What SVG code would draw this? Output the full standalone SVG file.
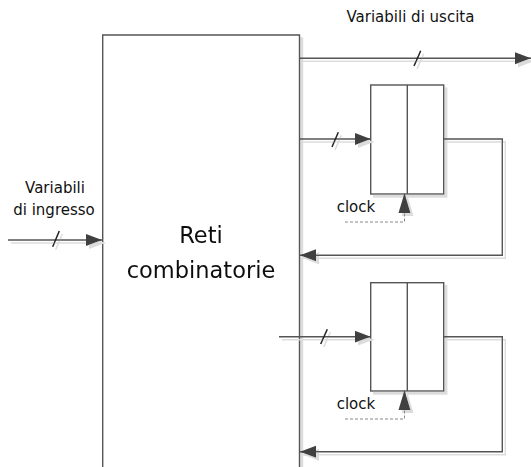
<svg xmlns="http://www.w3.org/2000/svg" width="531" height="467" viewBox="0 0 531 467">
<style>
.ln{fill:none;stroke:#555;stroke-width:1.4}
.bx{fill:#fff;stroke:#555;stroke-width:1.4}
.dash{fill:none;stroke:#888;stroke-width:1;stroke-dasharray:3 2}
.sl{stroke:#222;stroke-width:1.5}
.hd{fill:#404040}
.t{font-family:"DejaVu Sans","Noto Sans",sans-serif;fill:#111}
</style>
<defs>
<marker id="ah" markerUnits="userSpaceOnUse" markerWidth="17" markerHeight="13" refX="16" refY="6" orient="auto">
<path d="M0,0 L16,6 L0,12 z" fill="#404040"/>
</marker>
<filter id="sh" x="-5%" y="-5%" width="115%" height="115%">
<feOffset in="SourceAlpha" dx="3" dy="3" result="o"/>
<feFlood flood-color="#dcdcdc"/>
<feComposite in2="o" operator="in" result="s"/>
<feMerge><feMergeNode in="s"/><feMergeNode in="SourceGraphic"/></feMerge>
</filter>
</defs>
<rect width="531" height="467" fill="#fff"/>

<g id="reti" filter="url(#sh)">
<path class="bx" d="M102.7,470 V35 H299.5 V470"/>
<text class="t" x="201" y="243" font-size="22.5" text-anchor="middle">Reti</text>
<text class="t" x="201" y="278" font-size="22.5" text-anchor="middle">combinatorie</text>
</g>

<g id="reg1" filter="url(#sh)">
<rect class="bx" x="370.7" y="85" width="73" height="109"/>
<line class="ln" x1="407.3" y1="85" x2="407.3" y2="194"/>
</g>

<g id="reg2" filter="url(#sh)">
<rect class="bx" x="370.7" y="282.7" width="73" height="108.3"/>
<line class="ln" x1="407.3" y1="282.7" x2="407.3" y2="391"/>
</g>

<g id="connectors">
<g filter="url(#sh)">
<line class="ln" x1="8" y1="240" x2="102" y2="240" marker-end="url(#ah)"/>
<line class="ln" x1="299.5" y1="58.3" x2="531" y2="58.3" marker-end="url(#ah)"/>
<line class="ln" x1="299.5" y1="139" x2="370.7" y2="139" marker-end="url(#ah)"/>
<path class="ln" d="M443.7,139 H502.3 V255.3 H300" marker-end="url(#ah)"/>
<line class="ln" x1="279" y1="336.7" x2="370.7" y2="336.7" marker-end="url(#ah)"/>
<path class="ln" d="M443.7,336.7 H502.3 V451.7 H300" marker-end="url(#ah)"/>
<path class="hd" d="M404.5,193 L410.5,213 L398.5,213 z"/>
<path class="hd" d="M404.5,390 L410.5,410 L398.5,410 z"/>
<line class="sl" x1="52.7" y1="246.7" x2="59.3" y2="231"/>
<line class="sl" x1="414" y1="66" x2="420.7" y2="50.7"/>
<line class="sl" x1="332" y1="147" x2="338.3" y2="132.3"/>
<line class="sl" x1="320.7" y1="344" x2="327.3" y2="329.3"/>
</g>
<path class="dash" d="M345,222 H404.5 V213"/>
<path class="dash" d="M345,419 H404.5 V410"/>
</g>

<text class="t" x="346.5" y="21.7" font-size="15">Variabili di uscita</text>
<text class="t" x="55" y="193" font-size="15" text-anchor="middle">Variabili</text>
<text class="t" x="54" y="215" font-size="15" text-anchor="middle">di ingresso</text>
<text class="t" x="336.7" y="211.7" font-size="15">clock</text>
<text class="t" x="336.7" y="408.5" font-size="15">clock</text>
</svg>
